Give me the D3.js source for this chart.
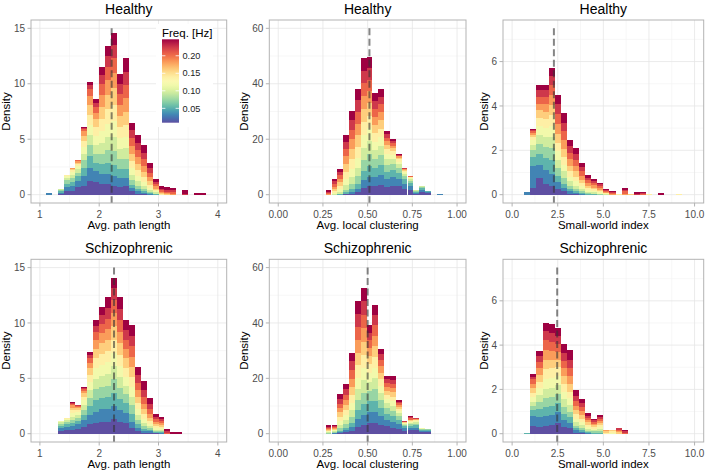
<!DOCTYPE html>
<html><head><meta charset="utf-8">
<script src="https://cdn.jsdelivr.net/npm/d3@7"></script>
<style>body{margin:0;background:#fff}svg{display:block;font-family:"Liberation Sans",Arial,Helvetica,sans-serif}</style>
</head><body><svg id="c" width="708" height="473"></svg>
<script>
// ---------- data ----------
const freqs = [0.009, 0.031, 0.052, 0.074, 0.096, 0.117, 0.139, 0.160, 0.182, 0.204, 0.225, 0.247];
const groups = ["Healthy", "Schizophrenic"];
const metrics = ["Avg. path length", "Avg. local clustering", "Small-world index"];
const xLimits = [[1, 4], [0, 1], [0, 10]];
const yMaxes = [15, 60, 7.5];
const xTicks = [[1, 2, 3, 4], [0, 0.25, 0.5, 0.75, 1], [0, 2.5, 5, 7.5, 10]];
const xTickLabels = [["1", "2", "3", "4"], ["0.00", "0.25", "0.50", "0.75", "1.00"], ["0.0", "2.5", "5.0", "7.5", "10.0"]];
const yTicks = [[0, 5, 10, 15], [0, 20, 40, 60], [0, 2, 4, 6]];
const binWidths = [0.1, 0.0327, 0.3333];
const medians = [[2.21, 0.51, 2.29], [2.25, 0.50, 2.47]];
const legendTicks = [0.05, 0.10, 0.15, 0.20];
const legendTitle = "Freq. [Hz]";

// each row: [bin start, stacked densities per frequency band (low -> high)]
const healthyPath = [
  [1.1, [0,0.15,0,0,0,0,0,0,0,0,0,0]],
  [1.3, [0.05,0.1,0.15,0.15,0.1,0,0,0,0,0,0,0]],
  [1.4, [0.3,0.35,0.35,0.3,0.2,0.15,0.1,0.05,0,0,0,0]],
  [1.5, [0.35,0.4,0.4,0.35,0.3,0.25,0.15,0.1,0.1,0,0,0]],
  [1.6, [0.7,0.5,0.45,0.35,0.3,0.25,0.2,0.15,0.1,0.1,0.05,0]],
  [1.7, [0.8,0.9,0.7,0.7,0.6,0.6,0.5,0.5,0.4,0.2,0.1,0.1]],
  [1.8, [1.2,1.2,1.1,1.0,0.9,0.9,0.9,0.9,0.8,0.6,0.4,0.3]],
  [1.9, [1.1,1.0,0.8,0.8,0.8,0.8,0.8,0.7,0.6,0.5,0.4,0.3]],
  [2.0, [1.0,0.9,0.9,0.9,1.0,1.0,1.1,1.1,1.1,1.0,0.8,0.7]],
  [2.1, [1.0,0.9,1.0,1.1,1.2,1.2,1.3,1.3,1.3,1.2,1.0,0.9]],
  [2.2, [0.8,0.9,1.0,1.2,1.3,1.4,1.5,1.5,1.4,1.3,1.2,1.1]],
  [2.3, [0.7,0.8,0.8,0.9,0.9,1.0,1.0,1.0,1.0,1.0,0.9,0.9]],
  [2.4, [0.8,0.7,0.8,0.9,1.0,1.0,1.1,1.2,1.2,1.2,1.2,1.2]],
  [2.5, [0.3,0.3,0.3,0.4,0.5,0.6,0.6,0.7,0.7,0.7,0.7,0.7]],
  [2.6, [0.1,0.2,0.2,0.3,0.4,0.5,0.5,0.6,0.6,0.6,0.7,0.7]],
  [2.7, [0.05,0.1,0.15,0.2,0.3,0.35,0.4,0.5,0.55,0.6,0.6,0.65]],
  [2.8, [0,0.05,0.1,0.1,0.15,0.2,0.25,0.35,0.4,0.4,0.4,0.5]],
  [2.9, [0,0,0.05,0.05,0.1,0.1,0.1,0.15,0.2,0.2,0.2,0.25]],
  [3.0, [0,0,0,0,0,0,0.05,0.1,0.1,0.15,0.15,0.2]],
  [3.1, [0,0,0,0,0,0,0,0.05,0.1,0.1,0.2,0.2]],
  [3.2, [0,0,0,0,0,0,0,0,0.1,0.1,0.2,0.2]],
  [3.4, [0,0,0,0,0,0,0,0,0,0,0.1,0.3]],
  [3.6, [0,0,0,0,0,0,0,0,0,0,0,0.15]],
  [3.7, [0,0,0,0,0,0,0,0,0,0,0,0.15]]
];
const healthyClust = [
  [0.265, [0,0,0,0,0,0,0,0,0.2,0.3,0.5,0.56]],
  [0.298, [0,0,0,0,0.2,0.4,0.6,0.8,0.9,1.0,1.0,0.9]],
  [0.331, [0,0,0.1,0.3,0.6,0.9,1.2,1.3,1.3,1.3,1.2,1.2]],
  [0.363, [0.1,0.2,0.5,1.0,1.6,2.2,2.6,2.8,2.8,2.6,2.5,2.5]],
  [0.396, [0.3,0.6,1.2,1.8,2.5,3.0,3.4,3.6,3.6,3.5,3.4,3.2]],
  [0.429, [0.8,1.2,2.0,2.6,3.2,3.6,3.9,4.1,4.2,4.3,4.2,4.1]],
  [0.461, [2.5,2.8,3.4,3.9,4.3,4.6,4.7,4.7,4.7,4.6,4.5,4.5]],
  [0.494, [3.0,3.5,4.0,4.3,4.5,4.6,4.6,4.5,4.3,4.2,4.1,4.0]],
  [0.527, [3.0,3.2,3.3,3.3,3.2,3.1,3.0,3.0,2.9,2.9,2.9,2.9]],
  [0.559, [3.5,3.6,3.6,3.5,3.3,3.2,3.1,3.0,2.9,2.9,2.8,2.8]],
  [0.592, [2.8,2.8,2.6,2.4,2.1,1.9,1.7,1.6,1.4,1.3,1.2,1.1]],
  [0.625, [3.2,3.0,2.6,2.2,1.8,1.5,1.3,1.1,1.0,0.9,0.8,0.7]],
  [0.657, [3.0,2.7,2.2,1.7,1.3,1.0,0.8,0.6,0.5,0.3,0.2,0.2]],
  [0.690, [2.0,1.9,1.6,1.2,0.9,0.6,0.4,0.3,0.3,0.2,0.1,0.1]],
  [0.723, [1.6,1.5,1.2,0.8,0.6,0.4,0.2,0.1,0.1,0.1,0,0]],
  [0.756, [0.2,0.3,0.4,0.4,0.26,0,0,0,0,0,0,0]],
  [0.788, [0.9,0.9,0.6,0.4,0.2,0,0,0,0,0,0,0]],
  [0.821, [0.6,0.5,0.2,0,0,0,0,0,0,0,0,0]],
  [0.886, [0,0.3,0,0,0,0,0,0,0,0,0,0]]
];
const healthySW = [
  [0.667, [0,0.1,0,0,0,0,0,0,0,0,0,0]],
  [1.0, [0.3,1.0,0.4,0.3,0.25,0.2,0.15,0.1,0.1,0.07,0.05,0.05]],
  [1.333, [0.75,0.6,0.5,0.45,0.4,0.4,0.35,0.35,0.3,0.3,0.3,0.26]],
  [1.667, [0.5,0.6,0.55,0.5,0.45,0.4,0.4,0.35,0.35,0.3,0.3,0.26]],
  [2.0, [0.4,0.55,0.6,0.55,0.5,0.5,0.5,0.45,0.45,0.45,0.4,0.38]],
  [2.333, [0.25,0.3,0.3,0.35,0.35,0.4,0.4,0.4,0.45,0.45,0.43,0.4]],
  [2.667, [0.15,0.15,0.2,0.25,0.3,0.3,0.35,0.35,0.4,0.4,0.4,0.45]],
  [3.0, [0.05,0.1,0.1,0.15,0.2,0.2,0.25,0.25,0.3,0.3,0.28,0.28]],
  [3.333, [0.03,0.05,0.07,0.1,0.15,0.2,0.2,0.25,0.25,0.27,0.27,0.26]],
  [3.667, [0,0.03,0.05,0.07,0.1,0.12,0.15,0.16,0.18,0.19,0.19,0.19]],
  [4.0, [0,0,0.02,0.04,0.06,0.08,0.1,0.1,0.12,0.12,0.13,0.13]],
  [4.333, [0,0,0.02,0.03,0.05,0.06,0.08,0.08,0.1,0.1,0.1,0.1]],
  [4.667, [0,0,0,0.02,0.03,0.05,0.06,0.07,0.07,0.08,0.08,0.07]],
  [5.0, [0,0,0,0,0.01,0.02,0.03,0.03,0.04,0.04,0.05,0.04]],
  [5.333, [0,0,0,0,0,0,0,0,0.03,0.04,0.04,0.04]],
  [5.667, [0,0,0,0,0,0,0.05,0,0,0,0,0]],
  [6.0, [0,0,0,0,0,0,0,0,0.05,0.1,0.05,0.1]],
  [6.333, [0,0,0,0,0,0,0,0.03,0,0,0,0]],
  [6.667, [0,0,0,0,0,0,0,0,0,0,0.05,0.05]],
  [7.0, [0,0,0,0,0,0,0,0,0,0.03,0.03,0.04]],
  [7.333, [0,0,0,0,0,0,0.05,0,0,0,0,0]],
  [8.0, [0,0,0,0,0,0,0,0,0,0,0,0.08]],
  [9.0, [0,0,0,0,0,0,0.05,0,0,0,0,0]]
];
const schizoPath = [
  [1.3, [0.25,0.25,0.2,0.2,0.14,0.1,0,0,0,0,0,0]],
  [1.4, [0.3,0.3,0.25,0.2,0.15,0.1,0.08,0,0,0,0,0]],
  [1.5, [0.3,0.35,0.3,0.3,0.3,0.3,0.25,0.25,0.2,0.1,0.1,0.1]],
  [1.6, [0.45,0.4,0.3,0.3,0.25,0.25,0.2,0.15,0.1,0.1,0.05,0]],
  [1.7, [0.6,0.6,0.5,0.45,0.45,0.4,0.35,0.3,0.25,0.15,0.1,0.05]],
  [1.8, [0.9,0.8,0.8,0.75,0.7,0.7,0.65,0.6,0.5,0.45,0.3,0.2]],
  [1.9, [1.0,1.0,1.0,1.0,0.95,0.95,0.9,0.85,0.8,0.7,0.6,0.48]],
  [2.0, [1.1,1.1,1.0,1.0,1.0,1.0,1.0,0.95,0.9,0.85,0.8,0.7]],
  [2.1, [1.1,1.1,1.1,1.05,1.05,1.05,1.0,1.0,1.0,0.95,0.95,0.98]],
  [2.2, [1.3,1.2,1.2,1.2,1.2,1.2,1.2,1.2,1.2,1.15,1.15,0.9]],
  [2.3, [1.1,1.05,1.0,1.0,1.0,1.0,1.0,1.0,1.05,1.05,1.03,1.05]],
  [2.4, [1.0,0.9,0.85,0.8,0.8,0.8,0.8,0.85,0.85,0.85,0.85,0.88]],
  [2.5, [0.5,0.6,0.7,0.75,0.8,0.85,0.9,0.9,0.95,0.95,0.95,0.99]],
  [2.6, [0.2,0.3,0.35,0.4,0.45,0.5,0.55,0.6,0.6,0.65,0.68,0.75]],
  [2.7, [0.1,0.15,0.2,0.25,0.3,0.35,0.4,0.45,0.5,0.6,0.65,0.85]],
  [2.8, [0.1,0.1,0.15,0.15,0.2,0.2,0.25,0.3,0.35,0.4,0.44,0.6]],
  [2.9, [0.02,0.05,0.08,0.1,0.12,0.15,0.18,0.2,0.2,0.2,0.22,0.28]],
  [3.0, [0,0.05,0.07,0.1,0.12,0.14,0.15,0.17,0.18,0.18,0.17,0.2]],
  [3.1, [0,0,0,0,0,0,0,0,0,0.1,0.15,0.2]],
  [3.2, [0,0,0,0,0,0,0,0,0,0,0,0.15]],
  [3.3, [0,0,0,0,0,0,0,0,0,0,0,0.15]]
];
const schizoClust = [
  [0.265, [0,0,0,0.2,0.3,0.3,0.3,0.3,0.3,0.4,0.4,0.5]],
  [0.298, [0,0.1,0.2,0.3,0.3,0.3,0.3,0.3,0.3,0.3,0.3,0.3]],
  [0.331, [0.2,0.3,0.6,0.9,1.2,1.4,1.5,1.6,1.6,1.6,1.6,1.7]],
  [0.363, [0.5,0.7,1.0,1.3,1.5,1.7,1.8,1.8,1.9,1.9,1.9,1.8]],
  [0.396, [1.0,1.3,1.7,2.1,2.4,2.6,2.8,3.0,3.0,3.1,3.1,3.1]],
  [0.429, [2.5,2.8,3.2,3.6,4.0,4.2,4.4,4.5,4.6,4.7,4.7,4.8]],
  [0.461, [3.2,3.5,3.9,4.2,4.5,4.6,4.7,4.7,4.8,4.9,4.9,4.9]],
  [0.494, [4.0,4.0,3.8,3.6,3.4,3.2,3.1,3.0,2.9,2.8,2.7,2.6]],
  [0.527, [3.8,4.0,4.1,4.1,4.0,3.9,3.9,3.8,3.8,3.8,3.7,3.7]],
  [0.559, [3.2,3.2,3.0,2.8,2.6,2.5,2.4,2.4,2.3,2.2,2.1,2.0]],
  [0.592, [2.6,2.4,2.2,2.0,1.8,1.6,1.5,1.5,1.4,1.3,1.3,1.2]],
  [0.625, [2.2,2.2,2.0,1.9,1.8,1.7,1.6,1.5,1.5,1.5,1.5,1.4]],
  [0.657, [1.8,1.7,1.5,1.3,1.1,0.9,0.8,0.7,0.6,0.6,0.5,0.5]],
  [0.690, [1.0,0.9,0.7,0.5,0.4,0.3,0.2,0.2,0.1,0.1,0.1,0.1]],
  [0.723, [1.2,1.0,0.7,0.5,0.4,0.4,0.3,0.3,0.3,0.4,0.4,0.5]],
  [0.756, [1.2,1.0,0.8,0.6,0.5,0.4,0.3,0.3,0.2,0.1,0.1,0]],
  [0.788, [0.6,0.5,0.3,0.2,0.2,0.1,0,0,0,0,0,0]],
  [0.821, [0.5,0.5,0.4,0.3,0.1,0,0,0,0,0,0,0]]
];
const schizoSW = [
  [0.667, [0,0,0.05,0,0,0,0,0,0,0,0,0]],
  [1.0, [0.35,0.45,0.25,0.2,0.2,0.2,0.2,0.2,0.2,0.2,0.1,0.16]],
  [1.333, [0.3,0.45,0.35,0.35,0.3,0.3,0.3,0.3,0.3,0.3,0.25,0.24]],
  [1.667, [0.35,0.45,0.4,0.4,0.4,0.45,0.45,0.45,0.45,0.42,0.4,0.4]],
  [2.0, [0.4,0.45,0.4,0.4,0.4,0.45,0.45,0.4,0.4,0.4,0.4,0.39]],
  [2.333, [0.5,0.5,0.4,0.4,0.4,0.4,0.4,0.35,0.35,0.35,0.35,0.39]],
  [2.667, [0.3,0.3,0.3,0.3,0.35,0.35,0.35,0.35,0.35,0.35,0.35,0.39]],
  [3.0, [0.25,0.25,0.25,0.25,0.3,0.3,0.3,0.35,0.35,0.35,0.4,0.42]],
  [3.333, [0.05,0.1,0.1,0.12,0.15,0.15,0.2,0.2,0.2,0.2,0.25,0.25]],
  [3.667, [0.03,0.05,0.08,0.1,0.12,0.14,0.16,0.16,0.18,0.18,0.18,0.2]],
  [4.0, [0,0.03,0.05,0.06,0.08,0.09,0.1,0.1,0.1,0.1,0.1,0.11]],
  [4.333, [0,0,0.05,0.05,0.06,0.07,0.08,0.08,0.07,0.07,0.07,0.08]],
  [4.667, [0,0,0.05,0.08,0.08,0.08,0.1,0.1,0.1,0.08,0.08,0.09]],
  [5.0, [0,0,0,0,0,0,0.05,0.05,0.05,0,0,0]],
  [5.333, [0,0,0,0,0,0.05,0.05,0.05,0,0,0,0]],
  [5.667, [0,0,0,0,0,0,0,0.06,0.06,0.06,0.06,0]],
  [6.0, [0,0,0,0,0,0,0,0,0,0.05,0.05,0.05]]
];
const panelData = [[healthyPath, healthyClust, healthySW], [schizoPath, schizoClust, schizoSW]];

// ---------- drawing ----------
const svg = d3.select("#c");
const colsX = [[31, 226.7], [269.3, 466], [503, 703.7]];
const rowsY = [[20, 203], [259.3, 442]];
const fmin = d3.min(freqs), fmax = d3.max(freqs);
const fillOf = f => d3.interpolateSpectral(1 - (f - fmin) / (fmax - fmin));
const textCol = "#4d4d4d", frameCol = "#b3b3b3";

function minorOf(ticks, dom) {
  const step = ticks[1] - ticks[0];
  const out = [];
  for (let i = -1; i < ticks.length; i++) {
    const v = (i < 0 ? ticks[0] - step : ticks[i]) + step / 2;
    if (v > dom[0] && v < dom[1]) out.push(v);
  }
  return out;
}

groups.forEach((grp, gi) => {
  metrics.forEach((met, mi) => {
    const [L, R] = colsX[mi], [T, B] = rowsY[gi];
    const [a, b] = xLimits[mi], ex = (b - a) * 0.05;
    const x = d3.scaleLinear().domain([a - ex, b + ex]).range([L, R]);
    const ym = yMaxes[mi];
    const y = d3.scaleLinear().domain([-0.05 * ym, 1.05 * ym]).range([B, T]);
    const g = svg.append("g");

    // grid
    const xm = minorOf(xTicks[mi], x.domain()), ymn = minorOf(yTicks[mi], y.domain());
    g.selectAll(null).data(xm).join("line").attr("x1", d => x(d)).attr("x2", d => x(d)).attr("y1", T).attr("y2", B)
      .attr("stroke", "#f2f2f2").attr("stroke-width", 0.6);
    g.selectAll(null).data(ymn).join("line").attr("y1", d => y(d)).attr("y2", d => y(d)).attr("x1", L).attr("x2", R)
      .attr("stroke", "#f2f2f2").attr("stroke-width", 0.6);
    g.selectAll(null).data(xTicks[mi]).join("line").attr("x1", d => x(d)).attr("x2", d => x(d)).attr("y1", T).attr("y2", B)
      .attr("stroke", "#e6e6e6").attr("stroke-width", 0.8);
    g.selectAll(null).data(yTicks[mi]).join("line").attr("y1", d => y(d)).attr("y2", d => y(d)).attr("x1", L).attr("x2", R)
      .attr("stroke", "#e6e6e6").attr("stroke-width", 0.8);

    // stacked histogram
    const bw = binWidths[mi];
    const segs = [];
    panelData[gi][mi].forEach(([x0, hs]) => {
      let cum = 0;
      hs.forEach((h, k) => {
        if (h > 0) segs.push({ x0, y0: cum, y1: cum + h, k });
        cum += h;
      });
    });
    g.selectAll(null).data(segs).join("rect")
      .attr("x", d => x(d.x0)).attr("width", d => x(d.x0 + bw) - x(d.x0))
      .attr("y", d => y(d.y1)).attr("height", d => y(d.y0) - y(d.y1))
      .attr("fill", d => fillOf(freqs[d.k])).attr("shape-rendering", "crispEdges");

    // median dashed line
    g.append("line").attr("x1", x(medians[gi][mi])).attr("x2", x(medians[gi][mi]))
      .attr("y1", y(ym)).attr("y2", B)
      .attr("stroke", "#333").attr("stroke-opacity", 0.6).attr("stroke-width", 2)
      .attr("stroke-dasharray", "7,3.5");

    // frame
    g.append("rect").attr("x", L).attr("y", T).attr("width", R - L).attr("height", B - T)
      .attr("fill", "none").attr("stroke", frameCol).attr("stroke-width", 1);

    // ticks
    g.selectAll(null).data(xTicks[mi]).join("line").attr("x1", d => x(d)).attr("x2", d => x(d)).attr("y1", B).attr("y2", B + 3.5)
      .attr("stroke", frameCol).attr("stroke-width", 1);
    g.selectAll(null).data(yTicks[mi]).join("line").attr("y1", d => y(d)).attr("y2", d => y(d)).attr("x1", L - 3.5).attr("x2", L)
      .attr("stroke", frameCol).attr("stroke-width", 1);

    // tick labels
    g.selectAll(null).data(xTicks[mi]).join("text").attr("x", d => x(d)).attr("y", B + 14.6)
      .attr("text-anchor", "middle").attr("font-size", 10).attr("fill", textCol)
      .text((d, i) => xTickLabels[mi][i]);
    const yl = g.selectAll(null).data(yTicks[mi]).join("text").attr("x", L - 6).attr("y", d => y(d) + 3.6)
      .attr("text-anchor", "end").attr("font-size", 10).attr("fill", textCol).text(d => d3.format("d")(d));
    let wmax = 0; yl.each(function () { wmax = Math.max(wmax, this.getComputedTextLength()); });

    // axis titles
    g.append("text").attr("x", (L + R) / 2).attr("y", B + 25.5).attr("text-anchor", "middle")
      .attr("font-size", 11.5).attr("fill", "#000").text(met);
    const dx = L - 6 - wmax - 3.8;
    g.append("text").attr("transform", `translate(${dx},${(T + B) / 2}) rotate(-90)`).attr("text-anchor", "middle")
      .attr("font-size", 11.5).attr("fill", "#000").text("Density");
    // panel title
    g.append("text").attr("x", (L + R) / 2).attr("y", T - 6.5).attr("text-anchor", "middle")
      .attr("font-size", 14).attr("fill", "#000").text(grp);

    // legend (first panel only)
    if (gi === 0 && mi === 0) {
      const lg = svg.append("g");
      const bx = 162, bwid = 17, btop = 39.3, bbot = 122.7;
      const ly = d3.scaleLinear().domain([fmin, fmax]).range([bbot, btop]);
      lg.append("rect").attr("x", 156).attr("y", 24).attr("width", 57).attr("height", 103).attr("fill", "#fff");
      const grad = svg.append("defs").append("linearGradient").attr("id", "lgd")
        .attr("x1", 0).attr("y1", 1).attr("x2", 0).attr("y2", 0);
      d3.range(0, 1.0001, 0.05).forEach(t => grad.append("stop").attr("offset", t)
        .attr("stop-color", fillOf(fmin + t * (fmax - fmin))));
      lg.append("rect").attr("x", bx).attr("y", btop).attr("width", bwid).attr("height", bbot - btop).attr("fill", "url(#lgd)");
      legendTicks.forEach(v => {
        lg.append("line").attr("x1", bx).attr("x2", bx + 3.4).attr("y1", ly(v)).attr("y2", ly(v)).attr("stroke", "#fff").attr("stroke-width", 0.8);
        lg.append("line").attr("x1", bx + bwid - 3.4).attr("x2", bx + bwid).attr("y1", ly(v)).attr("y2", ly(v)).attr("stroke", "#fff").attr("stroke-width", 0.8);
        lg.append("text").attr("x", bx + bwid + 3.5).attr("y", ly(v) + 3.2).attr("font-size", 9.2).attr("fill", "#222")
          .text(d3.format(".2f")(v));
      });
      lg.append("text").attr("x", bx).attr("y", 36.5).attr("font-size", 11.5).attr("fill", "#000").text(legendTitle);
    }
  });
});
</script></body></html>
